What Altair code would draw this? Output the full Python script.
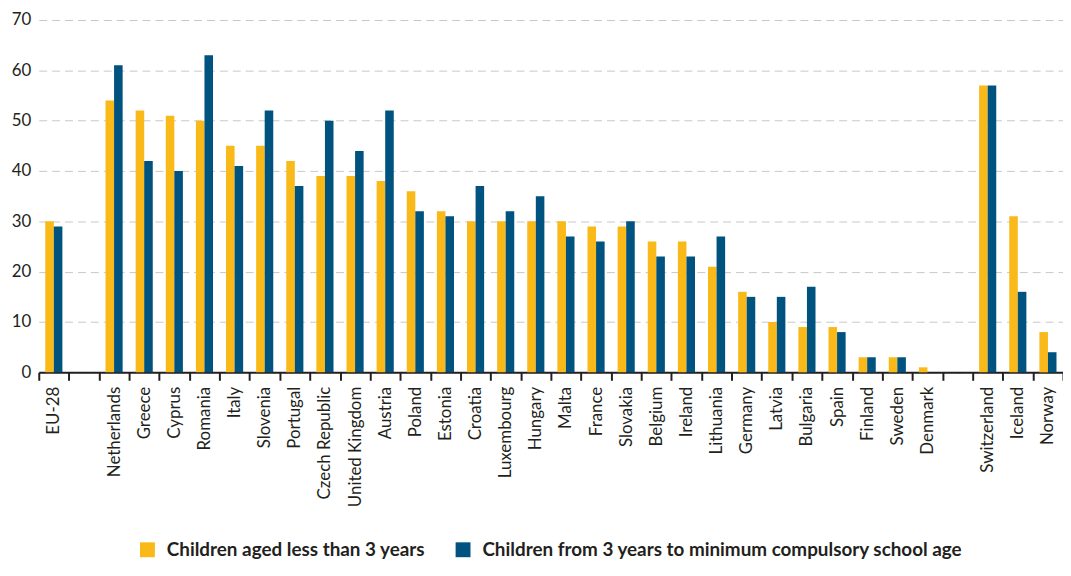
import altair as alt
import pandas as pd

countries = ["EU-28", "Netherlands", "Greece", "Cyprus", "Romania", "Italy", "Slovenia",
             "Portugal", "Czech Republic", "United Kingdom", "Austria", "Poland", "Estonia",
             "Croatia", "Luxembourg", "Hungary", "Malta", "France", "Slovakia", "Belgium",
             "Ireland", "Lithuania", "Germany", "Latvia", "Bulgaria", "Spain", "Finland",
             "Sweden", "Denmark", "Switzerland", "Iceland", "Norway"]
under3 = [30, 54, 52, 51, 50, 45, 45, 42, 39, 39, 38, 36, 32, 30, 30, 30, 30, 29, 29, 26,
          26, 21, 16, 10, 9, 9, 3, 3, 1, 57, 31, 8]
from3 = [29, 61, 42, 40, 63, 41, 52, 37, 50, 44, 52, 32, 31, 37, 32, 35, 27, 26, 30, 23,
         23, 27, 15, 15, 17, 8, 3, 3, 0, 57, 16, 4]
series = ["Children aged less than 3 years",
          "Children from 3 years to minimum compulsory school age"]
colors = ["#F9B918", "#00527F"]

# category order with two empty spacer slots
order = ["EU-28", " "] + countries[1:29] + ["  "] + countries[29:]

rows = []
for c, a, b in zip(countries, under3, from3):
    rows.append({"country": c, "series": series[0], "value": a})
    rows.append({"country": c, "series": series[1], "value": b})
df = pd.DataFrame(rows)

FONT = "Lato"

chart = alt.Chart(df).mark_bar().encode(
    x=alt.X("country:N", scale=alt.Scale(domain=order, paddingInner=0, paddingOuter=0),
            axis=alt.Axis(title=None, labelAngle=-90, labelFontSize=17, labelFont=FONT,
                          labelColor="#231F20", labelPadding=6, tickBand="extent",
                          tickSize=8, tickWidth=2, tickColor="#231F20",
                          domainColor="#231F20", domainWidth=2, grid=False,
                          labelOverlap=False)),
    xOffset=alt.XOffset("series:N", sort=series,
                        scale=alt.Scale(paddingOuter=0.76, paddingInner=0)),
    y=alt.Y("value:Q", scale=alt.Scale(domain=[0, 70], nice=False),
            axis=alt.Axis(title=None, values=[0, 10, 20, 30, 40, 50, 60, 70],
                          labelFontSize=17, labelFont=FONT, labelColor="#231F20",
                          labelPadding=8, tickSize=0, domain=False, grid=True,
                          gridColor="#C8C8C8", gridDash=[8, 5], gridWidth=1)),
    color=alt.Color("series:N", sort=series,
                    scale=alt.Scale(domain=series, range=colors),
                    legend=alt.Legend(title=None, orient="none", direction="horizontal",
                                      legendX=100, legendY=524, symbolType="square",
                                      symbolSize=225, symbolStrokeWidth=0,
                                      labelFontSize=19, labelFont=FONT,
                                      labelFontWeight="bold", labelColor="#231F20",
                                      labelOffset=10, columnPadding=28, padding=0,
                                      labelLimit=700)),
).properties(
    width=1032, height=355,
    autosize=alt.AutoSizeParams(type="none"),
    padding={"left": 31, "top": 10, "right": 0, "bottom": 193},
).configure_view(stroke=None)

chart.save("out.html", embed_options={"renderer": "svg", "actions": False})
